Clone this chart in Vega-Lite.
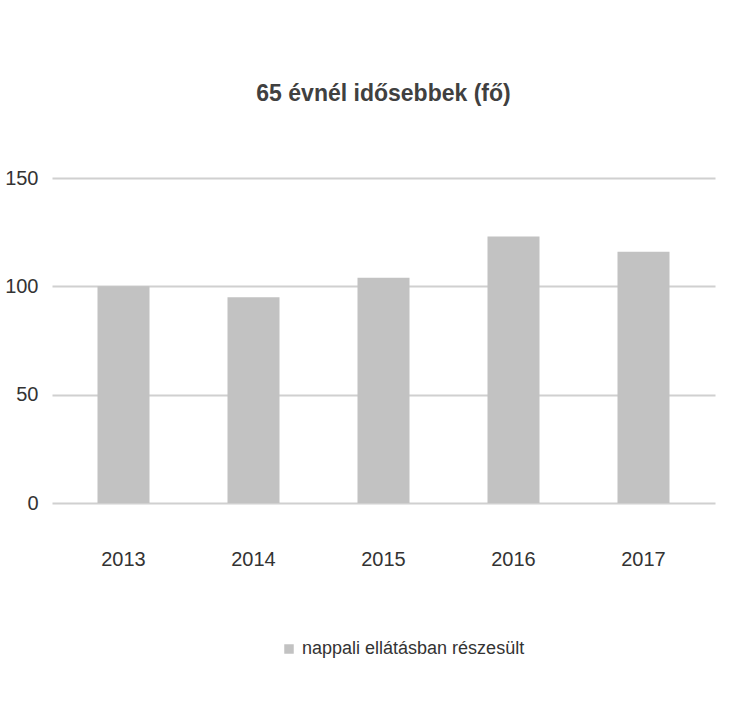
{
  "$schema": "https://vega.github.io/schema/vega-lite/v6.json",
  "width": 663,
  "height": 325,
  "autosize": {"type": "none"},
  "padding": {"left": 52, "top": 178, "right": 15, "bottom": 217},
  "background": "white",
  "config": {
    "view": {"stroke": null},
    "font": "Liberation Sans Narrow, Liberation Sans, sans-serif"
  },
  "title": {
    "text": "65 évnél idősebbek (fő)",
    "fontSize": 23,
    "fontWeight": "bold",
    "color": "#404040",
    "offset": 62,
    "anchor": "middle"
  },
  "data": {
    "values": [
      {"ev": "2013", "ertek": 100, "sorozat": "nappali ellátásban részesült"},
      {"ev": "2014", "ertek": 95, "sorozat": "nappali ellátásban részesült"},
      {"ev": "2015", "ertek": 104, "sorozat": "nappali ellátásban részesült"},
      {"ev": "2016", "ertek": 123, "sorozat": "nappali ellátásban részesült"},
      {"ev": "2017", "ertek": 116, "sorozat": "nappali ellátásban részesült"}
    ]
  },
  "mark": {"type": "bar"},
  "encoding": {
    "x": {
      "field": "ev",
      "type": "nominal",
      "scale": {"paddingInner": 0.6, "paddingOuter": 0.35},
      "axis": {
        "title": null,
        "labelAngle": 0,
        "labelFontSize": 20,
        "labelColor": "#333333",
        "labelPadding": 46,
        "domain": false,
        "ticks": false
      }
    },
    "y": {
      "field": "ertek",
      "type": "quantitative",
      "scale": {"domain": [0, 150]},
      "axis": {
        "title": null,
        "values": [0, 50, 100, 150],
        "labelFontSize": 20,
        "labelColor": "#333333",
        "labelPadding": 14,
        "domain": false,
        "ticks": false,
        "gridColor": "#d0d0d0",
        "gridWidth": 2
      }
    },
    "color": {
      "field": "sorozat",
      "type": "nominal",
      "scale": {"range": ["#c2c2c2"]},
      "legend": {
        "title": null,
        "orient": "none",
        "legendX": 228,
        "legendY": 462,
        "direction": "horizontal",
        "symbolType": "square",
        "symbolSize": 90,
        "labelFontSize": 18,
        "labelLimit": 400,
        "labelColor": "#333333"
      }
    }
  }
}
